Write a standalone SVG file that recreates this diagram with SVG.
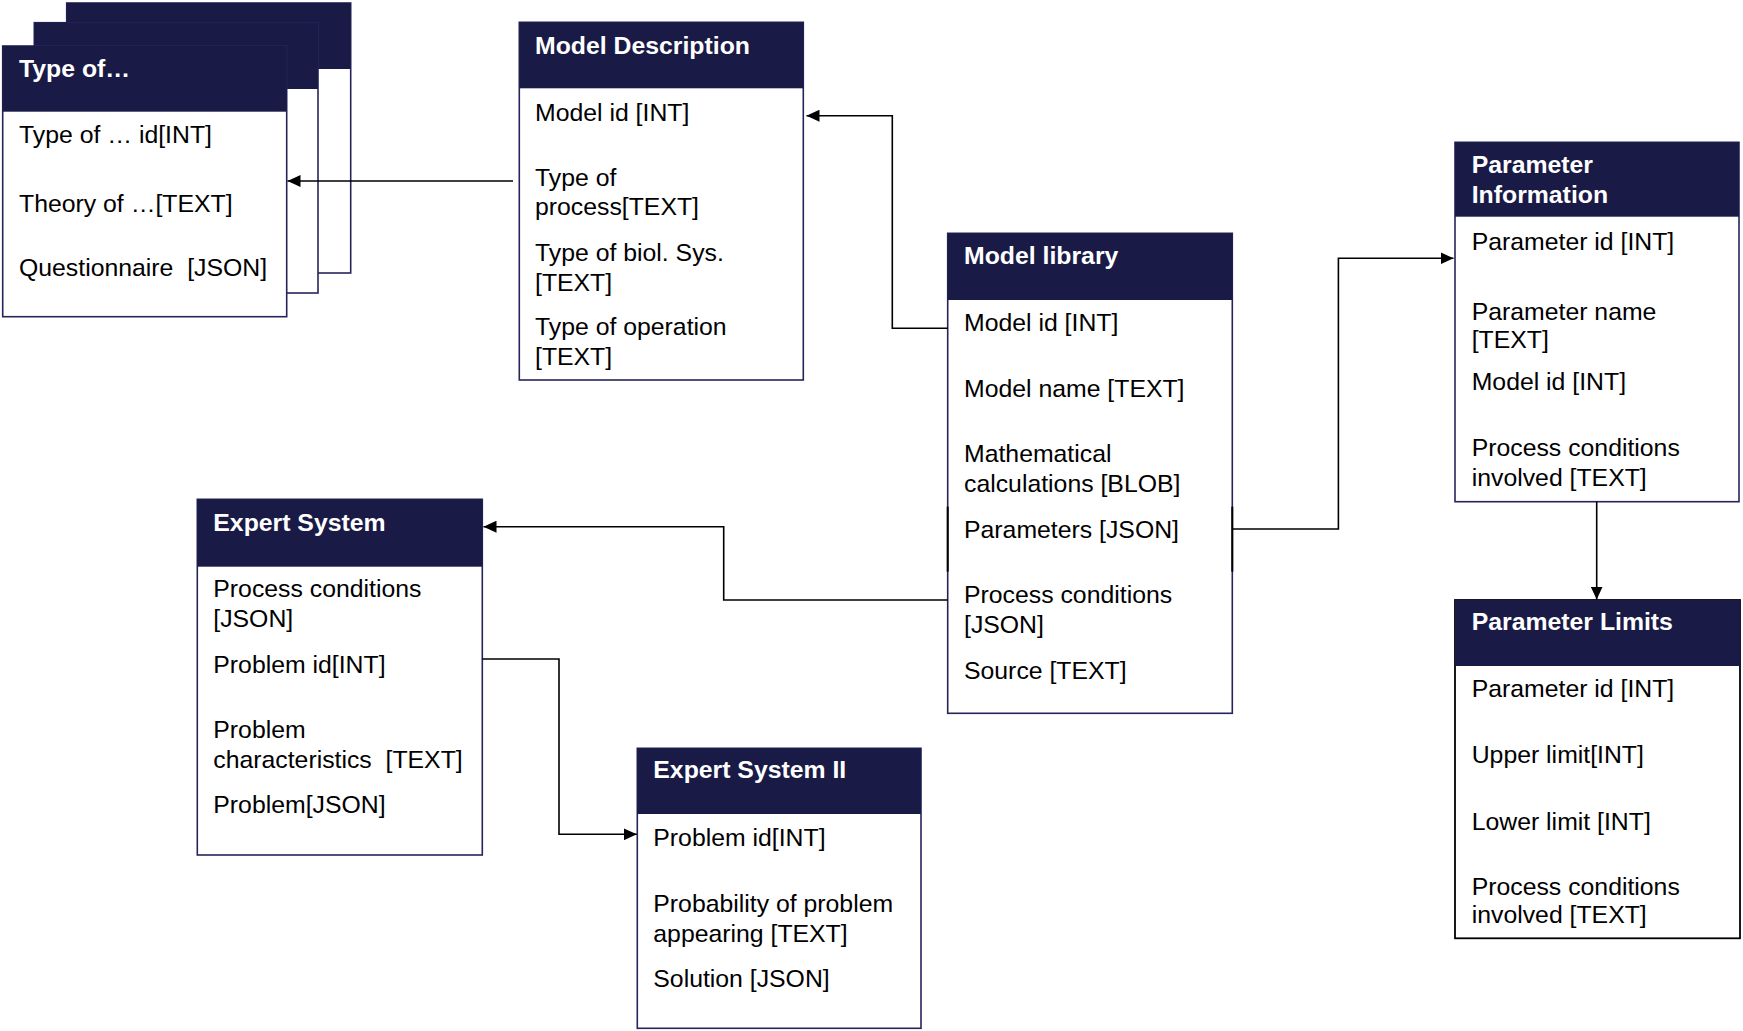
<svg xmlns="http://www.w3.org/2000/svg" width="1743" height="1031" viewBox="0 0 1743 1031">
<style>
.box{fill:#ffffff;stroke:#25255a;stroke-width:1.6}
.hdr{fill:#1a1a47}
.t{font-family:"Liberation Sans",Arial,sans-serif;font-size:24.8px;fill:#000000;white-space:pre}
.h{font-family:"Liberation Sans",Arial,sans-serif;font-size:24.8px;font-weight:bold;fill:#ffffff}
.c{fill:none;stroke:#000000;stroke-width:1.6}
</style>
<defs>
<marker id="arr" markerUnits="userSpaceOnUse" markerWidth="14" markerHeight="12" refX="13" refY="6" orient="auto">
<path d="M0,0 L13,6 L0,12 Z" fill="#000000"/>
</marker>
</defs>
<rect width="1743" height="1031" fill="#ffffff"/>

<g id="type-of">
<rect class="box" x="66.7" y="3" width="284" height="270"/>
<rect class="hdr" x="66.7" y="3" width="284" height="66"/>
<rect class="box" x="34.3" y="22.7" width="283.7" height="270.3"/>
<rect class="hdr" x="34.3" y="22.7" width="283.7" height="66.3"/>
<rect class="box" x="2.7" y="46" width="284" height="270.7"/>
<rect class="hdr" x="2.7" y="46" width="284" height="65.7"/>
<text class="h" x="19" y="77">Type of…</text>
<text class="t" x="19" y="143">Type of … id[INT]</text>
<text class="t" x="19" y="211.5">Theory of …[TEXT]</text>
<text class="t" x="19" y="276" xml:space="preserve">Questionnaire  [JSON]</text>
</g>

<g id="model-description">
<rect class="box" x="519.3" y="22.3" width="284" height="357.7"/>
<rect class="hdr" x="519.3" y="22.3" width="284" height="66"/>
<text class="h" x="535" y="54.3">Model Description</text>
<text class="t" x="535" y="121">Model id [INT]</text>
<text class="t" x="535" y="185.7">Type of</text>
<text class="t" x="535" y="215">process[TEXT]</text>
<text class="t" x="535" y="260.7">Type of biol. Sys.</text>
<text class="t" x="535" y="291">[TEXT]</text>
<text class="t" x="535" y="335">Type of operation</text>
<text class="t" x="535" y="365">[TEXT]</text>
</g>

<g id="model-library">
<rect class="box" x="947.7" y="233.3" width="284.6" height="480"/>
<rect class="hdr" x="947.7" y="233.3" width="284.6" height="66.7"/>
<line x1="947.7" y1="506.7" x2="947.7" y2="571.7" stroke="#000000" stroke-width="2"/>
<line x1="1232.3" y1="506.7" x2="1232.3" y2="571.7" stroke="#000000" stroke-width="2"/>
<text class="h" x="964" y="264.3">Model library</text>
<text class="t" x="964" y="331">Model id [INT]</text>
<text class="t" x="964" y="396.7">Model name [TEXT]</text>
<text class="t" x="964" y="462.3">Mathematical</text>
<text class="t" x="964" y="492.3">calculations [BLOB]</text>
<text class="t" x="964" y="538.3">Parameters [JSON]</text>
<text class="t" x="964" y="603.3">Process conditions</text>
<text class="t" x="964" y="633.3">[JSON]</text>
<text class="t" x="964" y="679">Source [TEXT]</text>
</g>

<g id="parameter-information">
<rect class="box" x="1455" y="142.3" width="284" height="359.4"/>
<rect class="hdr" x="1455" y="142.3" width="284" height="74.4"/>
<text class="h" x="1471.7" y="172.7">Parameter</text>
<text class="h" x="1471.7" y="203.3">Information</text>
<text class="t" x="1471.7" y="250">Parameter id [INT]</text>
<text class="t" x="1471.7" y="320">Parameter name</text>
<text class="t" x="1471.7" y="348.3">[TEXT]</text>
<text class="t" x="1471.7" y="390">Model id [INT]</text>
<text class="t" x="1471.7" y="456">Process conditions</text>
<text class="t" x="1471.7" y="485.7">involved [TEXT]</text>
</g>

<g id="parameter-limits">
<rect x="1455" y="600" width="285" height="338.3" fill="#ffffff" stroke="#000000" stroke-width="1.8"/>
<rect class="hdr" x="1455" y="600" width="285" height="66"/>
<text class="h" x="1471.7" y="630">Parameter Limits</text>
<text class="t" x="1471.7" y="696.7">Parameter id [INT]</text>
<text class="t" x="1471.7" y="763.3">Upper limit[INT]</text>
<text class="t" x="1471.7" y="830">Lower limit [INT]</text>
<text class="t" x="1471.7" y="895">Process conditions</text>
<text class="t" x="1471.7" y="923.3">involved [TEXT]</text>
</g>

<g id="expert-system">
<rect class="box" x="197.3" y="499.3" width="285" height="355.7"/>
<rect class="hdr" x="197.3" y="499.3" width="285" height="67.4"/>
<text class="h" x="213.3" y="530.7">Expert System</text>
<text class="t" x="213.3" y="596.7">Process conditions</text>
<text class="t" x="213.3" y="626.7">[JSON]</text>
<text class="t" x="213.3" y="672.7">Problem id[INT]</text>
<text class="t" x="213.3" y="738.3">Problem</text>
<text class="t" x="213.3" y="768.3" xml:space="preserve">characteristics  [TEXT]</text>
<text class="t" x="213.3" y="812.7">Problem[JSON]</text>
</g>

<g id="expert-system-ii">
<rect class="box" x="637.3" y="748.3" width="283.7" height="280"/>
<rect class="hdr" x="637.3" y="748.3" width="283.7" height="65.7"/>
<text class="h" x="653.3" y="778.3">Expert System II</text>
<text class="t" x="653.3" y="846">Problem id[INT]</text>
<text class="t" x="653.3" y="911.7">Probability of problem</text>
<text class="t" x="653.3" y="941.7">appearing [TEXT]</text>
<text class="t" x="653.3" y="986.7">Solution [JSON]</text>
</g>

<g id="connectors">
<path class="c" d="M513,181 H287.5" marker-end="url(#arr)"/>
<path class="c" d="M947.7,328.3 H892.3 V115.7 H806.5" marker-end="url(#arr)"/>
<path class="c" d="M1232.3,529 H1338.4 V258.3 H1453.5" marker-end="url(#arr)"/>
<path class="c" d="M1596.7,501.7 V599.5" marker-end="url(#arr)"/>
<path class="c" d="M947.7,600 H723.7 V526.7 H483.5" marker-end="url(#arr)"/>
<path class="c" d="M482.3,659 H559 V834.3 H636.8" marker-end="url(#arr)"/>
</g>
</svg>
